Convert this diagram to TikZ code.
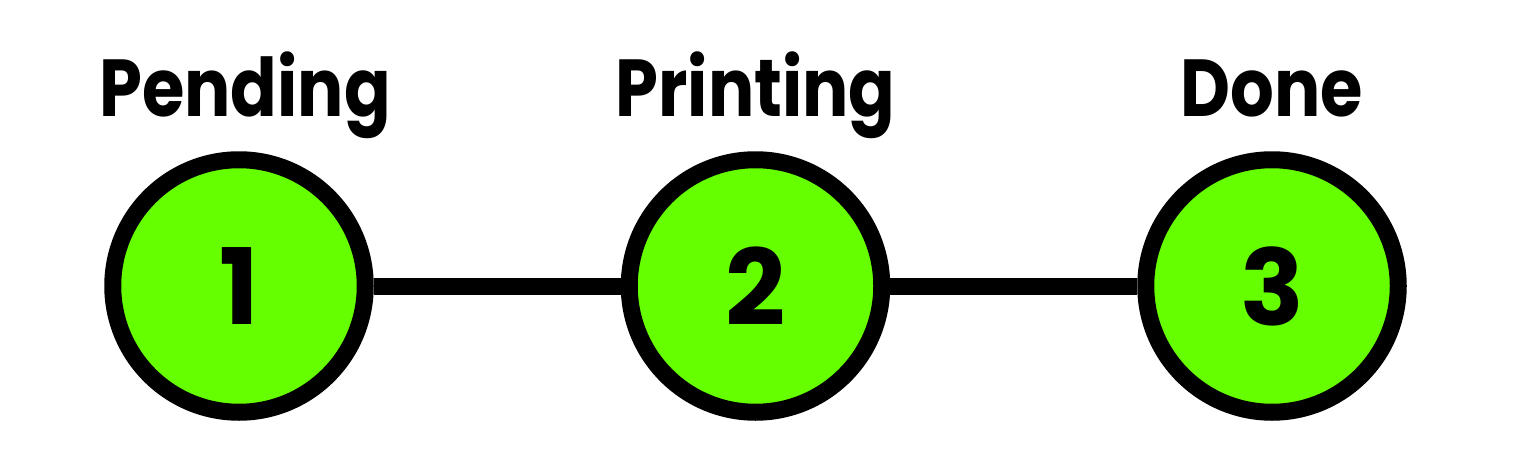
\documentclass[tikz,border=0pt]{standalone}
\usepackage{fontspec}
\newfontfamily\stagefont{Poppins}
\usetikzlibrary{positioning}
\definecolor{stagegreen}{RGB}{102,255,0}
\newcommand\narrowtext[1]{\scalebox{0.85}[1]{#1}}

\begin{document}
\begin{tikzpicture}[node distance=4.94cm,
  stage/.style={circle, draw=black, fill=stagegreen, line width=0.34cm,
                minimum size=5.05cm, inner sep=0pt,
                font=\stagefont\bfseries\fontsize{60}{60}\selectfont},
  lbl/.style={inner sep=0pt, anchor=base,
              font=\stagefont\bfseries\fontsize{46}{46}\selectfont}]
  \useasboundingbox (0,0) rectangle (30.7,-9.18);
  \node[stage] (one) at (4.78,-5.72) {1};
  \node[stage, right=of one] (two) {2};
  \node[stage, right=of two] (three) {3};
  \draw[line width=0.34cm] (one) -- (two);
  \draw[line width=0.34cm] (two) -- (three);
  \node[lbl] (pending) at ([xshift=0.12cm, yshift=0.7cm]one.north) {\narrowtext{Pending}};
  \node[lbl] (printing) at ([yshift=0.7cm]two.north) {\narrowtext{Printing}};
  \node[lbl] (done) at ([yshift=0.7cm]three.north) {\narrowtext{Done}};
\end{tikzpicture}
\end{document}
